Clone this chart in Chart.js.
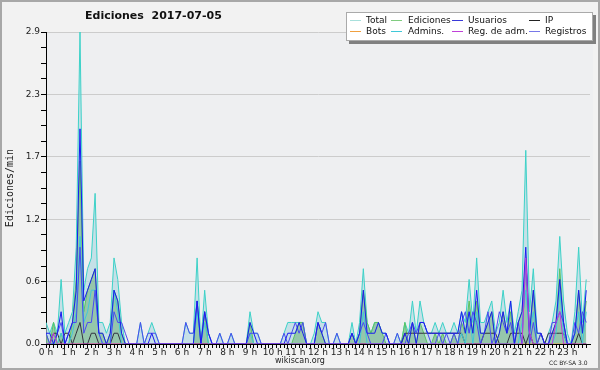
<!DOCTYPE html>
<html>
<head>
<meta charset="utf-8">
<script src="https://cdn.jsdelivr.net/npm/chart.js@4/dist/chart.umd.min.js"></script>
<style>
  html, body { margin: 0; padding: 0; background: #f2f2f2; }
  #wrap { position: relative; width: 600px; height: 370px; font-family: "DejaVu Sans", sans-serif; }
  #frame { position: absolute; left: 0; top: 0; width: 596px; height: 366px; border: 2px solid #a8a8a8; pointer-events: none; }
  #title { position: absolute; left: 85px; top: 9px; font: bold 11px "DejaVu Sans"; color: #111; white-space: pre; }
  #legend { position: absolute; left: 346px; top: 12px; width: 245px; height: 27px; background: #fff; border: 1px solid #aaa; box-shadow: 3px 3px 0 #808080; }
  .li { position: absolute; font: 9px "DejaVu Sans"; color: #111; white-space: nowrap; line-height: 10px; }
  .sw { position: absolute; height: 1.5px; width: 11px; }
  #site { position: absolute; left: 0; width: 600px; top: 356px; text-align: center; font: 8px "DejaVu Sans"; color: #222; }
  #lic { position: absolute; left: 549px; top: 359px; font: 6px "DejaVu Sans"; color: #222; white-space: nowrap; }
</style>
</head>
<body>
<div id="wrap">
  <canvas id="c" width="600" height="370"></canvas>
  <div id="title">Ediciones  2017-07-05</div>
  <div id="legend"></div>
  <div id="site">wikiscan.org</div>
  <div id="lic">CC BY-SA 3.0</div>
  <div id="frame"></div>
</div>
<script>
// 10-minute slots, values in edits/min (one row = one hour)
const hours = ["0 h","1 h","2 h","3 h","4 h","5 h","6 h","7 h","8 h","9 h","10 h","11 h","12 h","13 h","14 h","15 h","16 h","17 h","18 h","19 h","20 h","21 h","22 h","23 h"];
const yMax = 2.9;

const total = [
 0.2,0.1,0.2,0.1,0.6,0.1,
 0.2,0.3,0.9,2.9,0.5,0.7,
 0.8,1.4,0.2,0.2,0.1,0.2,
 0.8,0.6,0.2,0,0,0,
 0,0.2,0,0.1,0.2,0.1,
 0,0,0,0,0,0,
 0,0.2,0.1,0.1,0.8,0,
 0.5,0.1,0,0,0.1,0,
 0,0.1,0,0,0,0,
 0.3,0.1,0.1,0,0,0,
 0,0,0,0.1,0.2,0.2,
 0.2,0.2,0.2,0,0,0.1,
 0.3,0.2,0.2,0,0,0.1,
 0,0,0,0.2,0,0.2,
 0.7,0.2,0.1,0.2,0.2,0.1,
 0.1,0,0,0.1,0,0.2,
 0.1,0.4,0.1,0.4,0.2,0.1,
 0.1,0.2,0.1,0.2,0.1,0.1,
 0.2,0.1,0.3,0.2,0.6,0.2,
 0.8,0.2,0.2,0.3,0.4,0.1,
 0.2,0.5,0.2,0.4,0.1,0.3,
 0.5,1.8,0.3,0.7,0.1,0.1,
 0,0.1,0.2,0.4,1.0,0.4,
 0.1,0,0.3,0.9,0.2,0.6
];
const ediciones = [
 0.1,0,0.2,0,0.1,0,
 0,0.2,0.6,1.7,0.3,0.5,
 0.6,0.7,0.1,0.1,0,0.1,
 0.5,0.4,0.1,0,0,0,
 0,0,0,0,0,0,
 0,0,0,0,0,0,
 0,0,0,0,0.4,0,
 0.3,0,0,0,0,0,
 0,0,0,0,0,0,
 0.2,0,0,0,0,0,
 0,0,0,0,0,0,
 0.1,0.2,0.2,0,0,0,
 0.2,0.1,0,0,0,0,
 0,0,0,0.1,0,0.1,
 0.5,0.2,0.1,0.2,0.2,0.1,
 0,0,0,0,0,0.2,
 0,0.2,0,0.2,0.1,0,
 0,0.1,0,0.1,0,0,
 0.1,0,0.2,0.1,0.4,0.1,
 0.4,0.1,0.1,0.2,0.3,0,
 0.1,0.3,0.1,0.3,0,0.2,
 0.3,0.8,0.1,0.5,0,0,
 0,0,0.1,0.2,0.7,0.2,
 0,0,0.1,0.5,0.1,0.4
];
const usuarios = [
 0.1,0.1,0,0.1,0.3,0,
 0.1,0.2,0.5,2.0,0.4,0.5,
 0.6,0.7,0.1,0.1,0,0.1,
 0.5,0.4,0.1,0,0,0,
 0,0,0,0,0.1,0,
 0,0,0,0,0,0,
 0,0,0,0,0.4,0,
 0.3,0.1,0,0,0,0,
 0,0,0,0,0,0,
 0.2,0.1,0,0,0,0,
 0,0,0,0,0.1,0.1,
 0.1,0.2,0.1,0,0,0,
 0.2,0.1,0,0,0,0,
 0,0,0,0.1,0,0.1,
 0.5,0.1,0.1,0.1,0.2,0.1,
 0.1,0,0,0,0,0.1,
 0,0.2,0,0.2,0.2,0.1,
 0.1,0.1,0.1,0.1,0.1,0.1,
 0.1,0.1,0.3,0.1,0.3,0.1,
 0.5,0.1,0.1,0.2,0.3,0,
 0.1,0.3,0.1,0.4,0,0.2,
 0.3,0.9,0.1,0.5,0.1,0.1,
 0,0,0.1,0.2,0.6,0.2,
 0,0,0.1,0.5,0.1,0.5
];
const ip = [
 0,0,0.1,0.1,0,0.1,
 0.1,0,0.1,0.2,0,0,
 0.1,0.1,0,0,0,0,
 0.1,0.1,0,0,0,0,
 0,0,0,0,0,0,
 0,0,0,0,0,0,
 0,0,0,0,0,0,
 0,0,0,0,0,0,
 0,0,0,0,0,0,
 0,0,0,0,0,0,
 0,0,0,0,0,0,
 0,0,0,0,0,0,
 0,0,0,0,0,0,
 0,0,0,0,0,0,
 0,0,0,0,0,0,
 0,0,0,0,0,0.1,
 0.1,0.1,0.1,0.1,0.1,0.1,
 0.1,0.1,0.1,0.1,0.1,0.1,
 0.1,0.1,0.1,0,0,0,
 0,0,0.1,0.1,0.1,0.1,
 0,0,0,0.1,0.1,0.1,
 0.1,0,0.1,0,0,0.1,
 0,0.1,0.1,0.1,0.1,0.1,
 0,0,0,0.1,0,0
];
const bots = [
 0,0,0,0,0,0, 0,0,0,0,0,0, 0,0,0,0,0,0, 0,0,0,0,0,0,
 0,0,0,0,0,0, 0,0,0,0,0,0, 0,0,0,0,0,0, 0,0,0,0,0,0,
 0,0,0,0,0,0, 0,0,0,0,0,0, 0,0,0,0,0,0, 0,0,0,0,0,0,
 0,0,0,0,0,0, 0,0,0,0,0,0, 0,0,0,0,0,0, 0,0,0,0,0,0,
 0,0,0,0,0,0, 0,0,0,0,0,0, 0,0,0,0,0,0, 0,0,0,0,0,0,
 0,0,0,0,0,0, 0,0,0,0,0,0, 0,0,0,0,0,0, 0,0,0,0,0,0
];
const admins = [
 0,0,0,0,0.1,0,
 0,0.1,0.3,1.0,0.2,0.3,
 0.5,0.5,0.1,0,0,0,
 0.5,0.3,0,0,0,0,
 0,0,0,0,0,0,
 0,0,0,0,0,0,
 0,0,0,0,0.3,0,
 0.2,0,0,0,0,0,
 0,0,0,0,0,0,
 0.1,0,0,0,0,0,
 0,0,0,0,0,0,
 0,0,0,0,0,0,
 0,0,0,0,0,0,
 0,0,0,0,0,0,
 0.3,0,0,0,0,0,
 0,0,0,0,0,0,
 0,0,0,0,0,0,
 0,0,0,0,0,0,
 0,0,0.1,0,0.3,0,
 0.3,0,0,0,0,0,
 0,0,0,0,0,0,
 0.2,0.5,0.1,0.3,0,0,
 0,0,0,0.1,0.5,0.1,
 0,0,0.1,0.3,0,0.3
];
const regAdm = [
 0,0,0.1,0,0,0, 0,0,0,0,0,0, 0,0,0,0,0,0, 0,0,0,0,0,0,
 0,0,0,0,0,0, 0,0,0,0,0,0, 0,0,0,0,0,0, 0,0,0,0,0,0,
 0,0,0,0,0,0, 0,0,0,0,0,0, 0,0,0,0,0,0, 0,0,0,0,0,0,
 0,0,0,0,0,0, 0,0,0,0,0,0, 0,0,0,0,0,0, 0,0,0,0,0,0,
 0,0,0,0,0,0, 0,0,0,0,0,0, 0,0,0,0,0,0, 0,0,0,0,0,0,
 0,0,0,0,0,0,
 0,0.8,0.1,0,0,0,
 0,0,0,0.2,0.3,0,
 0,0,0,0,0,0
];
const registros = [
 0.1,0,0,0.1,0.2,0,
 0.1,0.2,0.2,0.9,0.1,0.2,
 0.2,0.5,0.1,0,0,0,
 0.3,0.2,0.2,0.1,0,0,
 0,0.2,0,0.1,0.1,0.1,
 0,0,0,0,0,0,
 0,0.2,0.1,0.1,0.4,0,
 0.3,0.1,0,0,0.1,0,
 0,0.1,0,0,0,0,
 0.1,0.1,0.1,0,0,0,
 0,0,0,0.1,0,0.1,
 0.2,0.1,0.2,0,0,0,
 0.2,0.1,0.2,0,0,0.1,
 0,0,0,0.1,0,0.1,
 0.2,0.1,0,0,0,0,
 0.1,0,0,0.1,0,0,
 0.1,0.2,0.1,0.2,0.2,0.1,
 0,0,0.1,0,0.1,0,
 0.1,0,0.2,0.3,0.1,0.3,
 0.2,0,0.1,0.3,0,0.1,
 0.3,0.2,0.1,0.2,0,0.2,
 0,0.8,0,0.2,0,0.1,
 0,0,0.2,0.2,0.3,0.2,
 0,0,0.2,0.1,0.3,0.2
];

const series = [
  {label: "Total",        data: total,     line: "#3cd2c8", swatch: "#a8e0dc", fill: "rgba(175,215,226,0.65)", order: 9},
  {label: "Ediciones",    data: ediciones, line: "#5cc460", swatch: "#80cc80", fill: "rgba(110,176,122,0.55)", order: 8},
  {label: "Usuarios",     data: usuarios,  line: "#1a1af0", swatch: "#3a3ad8", order: 2},
  {label: "IP",           data: ip,        line: "#333340", swatch: "#222222", order: 6},
  {label: "Bots",         data: bots,      line: "#f0a040", swatch: "#f0a040", order: 10},
  {label: "Admins.",      data: admins,    line: "#40c8d8", swatch: "#40c8d8", order: 4},
  {label: "Reg. de adm.", data: regAdm,    line: "#c040d8", swatch: "#c040d8", order: 1},
  {label: "Registros",    data: registros, line: "#4a4af0", swatch: "#7878e8", order: 3}
];

// HTML legend
const legendPos = [[350,366,5],[391,408,5],[452,468,5],[529,545,5],[350,366,16],[391,408,16],[452,468,16],[529,545,16]];
const lg = document.getElementById('legend');
series.forEach((s, k) => {
  const [sx, tx, ty] = legendPos[k];
  const sw = document.createElement('div');
  sw.className = 'sw'; sw.style.background = s.swatch;
  sw.style.left = (sx - 347) + 'px'; sw.style.top = (ty + 1.5) + 'px';
  lg.appendChild(sw);
  const t = document.createElement('div');
  t.className = 'li'; t.textContent = s.label;
  t.style.left = (tx - 347) + 'px'; t.style.top = (ty - 3) + 'px';
  lg.appendChild(t);
});

const bgPlugin = {
  id: 'plotbg',
  beforeDraw(chart) {
    const {ctx, chartArea: a} = chart;
    ctx.save();
    ctx.fillStyle = '#eeeff1';
    ctx.fillRect(a.left, a.top, a.right - a.left + 3, a.bottom - a.top);
    ctx.restore();
  }
};

Chart.defaults.font.family = '"DejaVu Sans", sans-serif';
Chart.defaults.font.size = 9;
Chart.defaults.color = '#222';

new Chart(document.getElementById('c'), {
  type: 'line',
  data: {
    datasets: series.map(s => ({
      label: s.label,
      data: s.data.map((v, i) => ({x: i, y: v})),
      borderColor: s.line,
      backgroundColor: s.fill || s.line,
      fill: s.fill ? 'origin' : false,
      borderWidth: 1,
      pointRadius: 0,
      tension: 0,
      order: s.order
    }))
  },
  options: {
    responsive: false,
    animation: false,
    events: [],
    layout: {padding: {left: 0, top: 32, right: 10, bottom: 0}},
    plugins: {
      legend: {display: false},
      title: {display: false},
      tooltip: {enabled: false},
      filler: {drawTime: 'beforeDatasetsDraw'}
    },
    scales: {
      x: {
        type: 'linear',
        min: 0,
        max: hours.length * 6,
        z: 1,
        afterBuildTicks(scale) {
          const t = [];
          for (let i = 0; i < hours.length * 6; i++) t.push({value: i});
          scale.ticks = t;
        },
        afterFit(scale) { scale.height = 26; },
        ticks: {
          autoSkip: false,
          maxRotation: 0,
          padding: -1,
          color: '#222',
          font: {size: 9},
          callback: (v) => (v % 6 === 0 ? hours[v / 6] : '')
        },
        grid: {drawOnChartArea: false, tickLength: 4, tickColor: '#000', tickWidth: 1},
        border: {color: '#000', width: 1}
      },
      y: {
        min: 0,
        max: yMax,
        afterBuildTicks(scale) {
          const t = [];
          for (let k = 0; k <= 20; k++) t.push({value: k * yMax / 20});
          scale.ticks = t;
        },
        afterFit(scale) { scale.width = 46; },
        ticks: {
          autoSkip: false,
          padding: 1,
          color: '#222',
          font: {size: 9},
          callback: (v, i) => (i % 4 === 0 ? v.toFixed(1) : '')
        },
        grid: {
          color: (ctx) => (ctx.index % 4 === 0 && ctx.index > 0 ? '#cccccc' : 'rgba(0,0,0,0)'),
          tickColor: '#000',
          tickLength: 5,
          lineWidth: 1
        },
        border: {color: '#000', width: 1},
        title: {
          display: true,
          text: 'Ediciones/min',
          color: '#222',
          font: {family: '"DejaVu Sans Mono", monospace', size: 10},
          padding: {top: 4, bottom: 0}
        }
      }
    }
  },
  plugins: [bgPlugin]
});
</script>
</body>
</html>
